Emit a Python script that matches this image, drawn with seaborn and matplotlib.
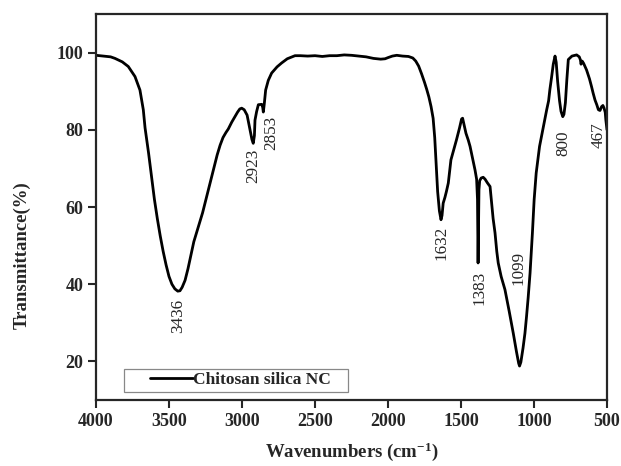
import pandas as pd
import matplotlib
matplotlib.use("Agg")
import matplotlib.pyplot as plt
import seaborn as sns
from matplotlib.legend_handler import HandlerLine2D

# FTIR spectrum
wavenumber = [4000, 3900, 3870, 3820, 3779, 3733, 3699, 3676, 3664, 3640, 3620, 3600,
              3580, 3560, 3540, 3520, 3500, 3480, 3460, 3440, 3425, 3410, 3390, 3370,
              3350, 3330, 3310, 3290, 3270, 3250, 3230, 3210, 3190, 3170, 3150, 3130,
              3110, 3094, 3070, 3048, 3030, 3015, 3002, 2985, 2965, 2945, 2932, 2923,
              2915, 2911, 2900, 2888, 2865, 2858, 2854, 2848, 2838, 2820, 2797, 2760,
              2729, 2690, 2637, 2600, 2550, 2500, 2450, 2400, 2350, 2300, 2250, 2200,
              2150, 2100, 2050, 2020, 2000, 1970, 1940, 1900, 1860, 1830, 1810, 1790,
              1770, 1750, 1735, 1720, 1705, 1691, 1680, 1670, 1660, 1648, 1637, 1630,
              1622, 1610, 1600, 1587, 1569, 1550, 1531, 1510, 1496, 1489, 1480, 1466,
              1450, 1438, 1420, 1404, 1393, 1387, 1383, 1380, 1377, 1372, 1362, 1348,
              1335, 1320, 1301, 1290, 1280, 1267, 1255, 1245, 1225, 1199, 1170, 1142,
              1120, 1105, 1099, 1090, 1075, 1062, 1051, 1040, 1027, 1011, 999, 985,
              962, 936, 913, 900, 891, 880, 868, 856, 848, 838, 825, 815, 803, 795,
              785, 775, 765, 740, 708, 690, 682, 678, 670, 660, 640, 620, 606, 595,
              582, 570, 559, 548, 537, 528, 520, 512, 508, 500]
transmittance = [99.3, 98.9, 98.5, 97.6, 96.4, 93.8, 90.3, 85.2, 80.5, 74.0, 68.0, 62.0,
                 57.0, 52.5, 48.5, 45.0, 42.0, 40.0, 38.8, 38.2, 38.3, 39.2, 41.0, 44.0,
                 47.5, 51.0, 53.5, 56.0, 58.5, 61.5, 64.5, 67.5, 70.5, 73.5, 76.0, 78.0,
                 79.3, 80.2, 82.0, 83.4, 84.6, 85.4, 85.6, 85.2, 83.8, 80.0, 77.5, 76.5,
                 78.5, 82.5, 84.7, 86.5, 86.6, 85.8, 84.6, 86.5, 90.3, 92.8, 94.7, 96.3,
                 97.3, 98.4, 99.2, 99.2, 99.1, 99.2, 99.0, 99.2, 99.2, 99.4, 99.3, 99.1,
                 98.9, 98.5, 98.3, 98.4, 98.7, 99.1, 99.3, 99.1, 99.0, 98.6, 97.8, 96.5,
                 94.5, 92.3, 90.5, 88.5, 86.0, 83.0, 78.0, 71.0, 64.0, 59.0, 56.7, 57.8,
                 61.0, 62.5, 64.0, 66.2, 72.2, 74.8, 77.4, 80.5, 82.8, 83.0, 81.5, 79.1,
                 77.3, 75.7, 72.5, 69.6, 67.2, 62.0, 45.5, 56.0, 64.5, 66.8, 67.5, 67.7,
                 67.2, 66.3, 65.3, 61.0, 57.0, 53.3, 48.5, 45.5, 42.0, 38.6, 33.0, 27.3,
                 22.5, 19.5, 18.8, 19.8, 23.5, 27.3, 31.7, 36.5, 42.9, 53.2, 61.9, 68.8,
                 75.7, 80.8, 85.2, 87.5, 90.5, 93.5, 97.0, 99.1, 97.5, 92.5, 87.5, 84.8,
                 83.4, 84.0, 87.0, 93.0, 98.2, 99.1, 99.4, 98.9, 98.1, 97.0, 97.8, 97.2,
                 95.5, 93.2, 91.2, 89.5, 87.7, 86.5, 85.2, 85.0, 86.0, 86.3, 85.6, 84.5,
                 82.6, 80.0]

peak_labels = ["3436", "2923", "2853", "1632", "1383", "1099", "800", "467"]
label_x = [3440, 2923, 2800, 1634, 1372, 1108, 800, 557]
label_y = [31.9, 70.7, 79.3, 50.6, 39.1, 44.2, 76.5, 78.7]

df = pd.DataFrame({"wn": wavenumber, "T": transmittance})

sns.set_style("ticks")
plt.rcParams["font.family"] = ["Liberation Serif", "DejaVu Serif"]
plt.rcParams["mathtext.fontset"] = "custom"
plt.rcParams["mathtext.rm"] = "Liberation Serif:bold"
plt.rcParams["mathtext.default"] = "rm"

fig = plt.figure(figsize=(6.21, 4.66), dpi=100)
ax = fig.add_axes([96 / 621, 1 - 400 / 466, 511 / 621, 386 / 466])

sns.lineplot(data=df, x="wn", y="T", color="black", linewidth=2.0,
             sort=False, label="Chitosan silica NC", ax=ax)

ax.set_xlim(4000, 500)
ax.set_ylim(10, 110)
ax.set_xticks([4000, 3500, 3000, 2500, 2000, 1500, 1000, 500])
ax.set_yticks([20, 40, 60, 80, 100])

for s in ax.spines.values():
    s.set_linewidth(1.6)
ax.tick_params(axis="both", direction="out", length=5.5, width=1.5,
               labelsize=13, top=False, right=False)
ax.tick_params(axis="x", pad=3.5)
ax.tick_params(axis="y", pad=3.5)
for lab in ax.get_xticklabels() + ax.get_yticklabels():
    lab.set_fontweight("bold")

ax.set_xlabel("Wavenumbers (cm$^{-1}$)", fontsize=13.5, fontweight="bold")
ax.set_ylabel("Transmittance(%)", fontsize=13.5, fontweight="bold")
ax.xaxis.set_label_coords(0.5, -0.106)
ax.yaxis.set_label_coords(-0.127, 0.376)

for txt, x, y in zip(peak_labels, label_x, label_y):
    ax.text(x, y, txt, rotation=90, ha="center", va="center", fontsize=12.3)

line = ax.get_lines()[0]
leg = ax.legend(handles=[line], labels=["Chitosan silica NC"],
                loc="lower left", bbox_to_anchor=(0.055, 0.021, 0.439, 0.07),
                mode="expand", borderaxespad=0, borderpad=0.2,
                handlelength=3.77, handletextpad=0, fancybox=False,
                edgecolor="#888888", framealpha=1,
                prop={"weight": "bold", "size": 12.5},
                handler_map={line: HandlerLine2D(xpad=1.3)})
leg.get_frame().set_linewidth(0.9)

fig.savefig("out.png", dpi=100)
